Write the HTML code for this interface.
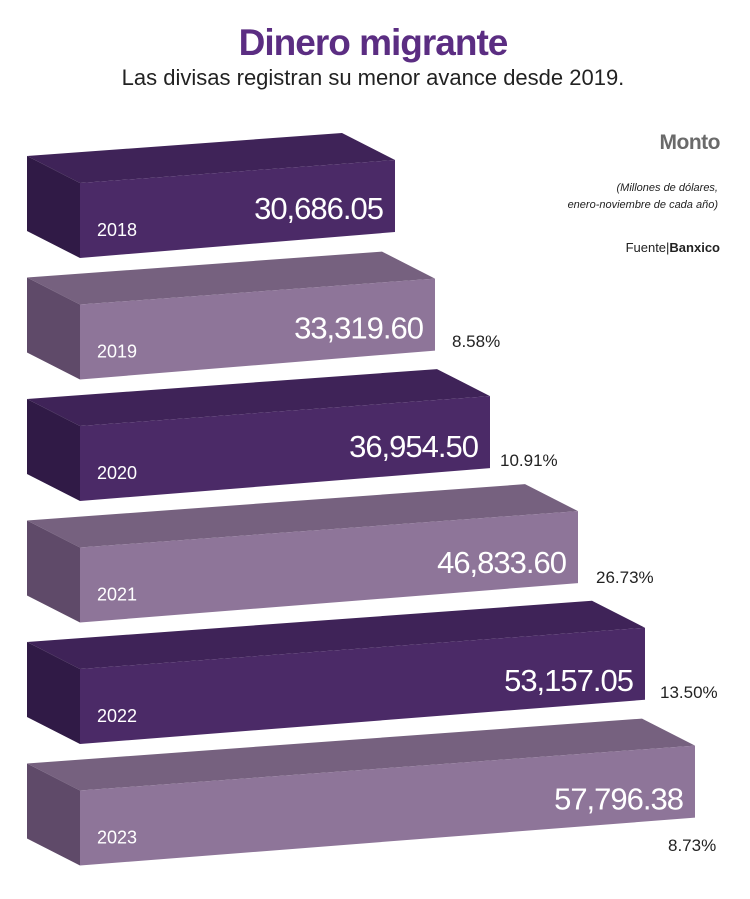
<!DOCTYPE html>
<html><head><meta charset="utf-8"><style>
body{margin:0;background:#fff;width:750px;height:899px;overflow:hidden}
svg{display:block}
</style></head><body>
<svg width="750" height="899" viewBox="0 0 750 899" xmlns="http://www.w3.org/2000/svg" font-family="Liberation Sans, sans-serif">
<text x="373" y="55" text-anchor="middle" font-size="37" font-weight="bold" fill="#5b2d82" letter-spacing="-1">Dinero migrante</text>
<text x="373" y="85" text-anchor="middle" font-size="22" fill="#222">Las divisas registran su menor avance desde 2019.</text>
<text x="720" y="149" text-anchor="end" font-size="21" font-weight="bold" fill="#6a6a6a" letter-spacing="-0.5">Monto</text>
<text x="718" y="191" text-anchor="end" font-size="11" font-style="italic" fill="#222">(Millones de dólares,</text>
<text x="718" y="208" text-anchor="end" font-size="11" font-style="italic" fill="#222">enero-noviembre de cada año)</text>
<text x="720" y="252" text-anchor="end" font-size="13" fill="#222">Fuente|<tspan font-weight="bold">Banxico</tspan></text>
<g id="bars"></g>
</svg>
<script>
var data=[["2018","30,686.05","",395],["2019","33,319.60","8.58%",435],["2020","36,954.50","10.91%",490],["2021","46,833.60","26.73%",578],["2022","53,157.05","13.50%",645],["2023","57,796.38","8.73%",695]];
var g=document.getElementById('bars'),s='';
var pct=[[0,0],[452,347],[500,466],[596,583],[660,698],[668,851]];
data.forEach(function(d,i){
 var y=183+i*121.5,xl=80,xr=d[3],sl=-0.073,yr=y+(xr-xl)*sl,h=75,dx=-53,dy=-27;
 var dark=i%2==0;
 var front=dark?'#4b2a67':'#8e7599',top=dark?'#3f2358':'#76617f',side=dark?'#301a46':'#5f4a69';
 s+='<polygon points="'+xl+','+y+' '+xr+','+yr+' '+(xr+dx)+','+(yr+dy)+' '+(xl+dx)+','+(y+dy)+'" fill="'+top+'"/>';
 s+='<polygon points="'+(xl+dx)+','+(y+dy)+' '+xl+','+y+' '+xl+','+(y+h)+' '+(xl+dx)+','+(y+h+dy)+'" fill="'+side+'"/>';
 s+='<polygon points="'+xl+','+y+' '+xr+','+yr+' '+xr+','+(yr+h-3)+' '+xl+','+(y+h)+'" fill="'+front+'"/>';
 s+='<text x="'+(xr-12)+'" y="'+(yr+59+i)+'" text-anchor="end" font-size="31" letter-spacing="-1" fill="#fff">'+d[1]+'</text>';
 s+='<text x="97" y="'+(y+53)+'" font-size="18" fill="#fff">'+d[0]+'</text>';
 if(d[2]) s+='<text x="'+pct[i][0]+'" y="'+pct[i][1]+'" font-size="17" fill="#222">'+d[2]+'</text>';
});
g.innerHTML=s;
</script>
</body></html>
